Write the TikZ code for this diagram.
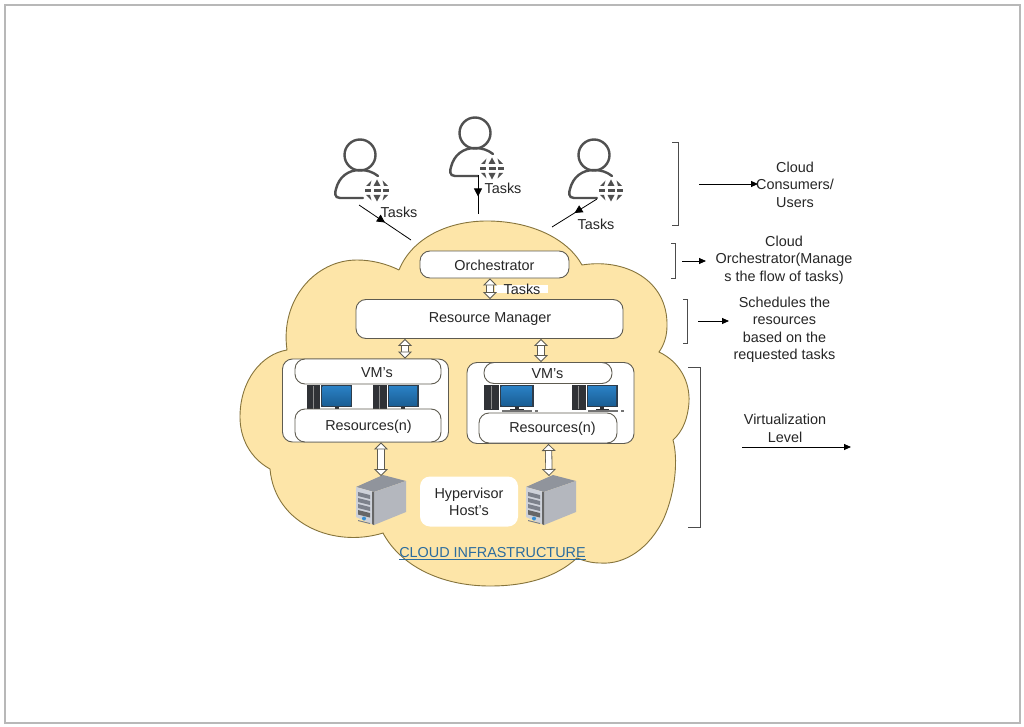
\documentclass[tikz,border=0pt]{standalone}
\usepackage{fontspec}
\setmainfont[Ligatures=ResetAll]{Liberation Sans}
\usetikzlibrary{arrows.meta,decorations.markings}
\definecolor{cloudfill}{HTML}{FDE5A8}
\definecolor{cloudline}{HTML}{86743C}
\definecolor{iconline}{HTML}{505050}
\definecolor{boxline}{HTML}{5E5B50}
\definecolor{linktext}{HTML}{2B6C9E}
\definecolor{screentop}{HTML}{2A80C4}
\definecolor{screenlow}{HTML}{1A5F96}
\definecolor{screenrim}{HTML}{2E3C4A}
\definecolor{towerdark}{HTML}{303236}
\definecolor{hosttop}{HTML}{90949C}
\definecolor{hostside}{HTML}{B4B7BE}
\definecolor{hostfront}{HTML}{CDD1D9}
\definecolor{hostbay}{HTML}{7C818B}
\definecolor{hostdot}{HTML}{3A8FD0}
\tikzset{
    label/.style={font=\fontsize{14.4}{17.5}\selectfont, text=black!85, align=center, inner sep=0pt},
    roundbox/.style={draw=boxline, fill=white, line width=0.9pt, rounded corners=10pt, inner sep=0pt, font=\fontsize{14.4}{17.5}\selectfont, text=black!85},
    bracket/.style={draw=black!70, line width=0.9pt},
    tasktip/.style={draw=black, line width=0.8pt, postaction={decorate},
        decoration={markings, mark=at position #1 with {\arrow{Triangle[length=8pt,width=8pt]}}}},
    sidearrow/.style={draw=black, line width=0.8pt, -{Triangle[length=7pt,width=6pt]}},
    dblarrow/.style={draw=boxline, line width=0.8pt, double=white, double distance=5.5pt,
        {Triangle[length=7pt,width=14pt,fill=white]}-{Triangle[length=7pt,width=14pt,fill=white]}},
    user/.pic={
        % Head and shoulders
        \draw[iconline, line width=2.4pt] (0,0) circle (15.5);
        \draw[iconline, line width=2.4pt, line cap=round] (3,43) -- (-20,43) .. controls (-26,43) and (-25,37) .. (-24,34) .. controls (-21,22) and (-12,15) .. (0,15) .. controls (7,15) and (13,17) .. (18,21);
        % Globe
        \fill[iconline] (17,24.5) -- (20.5,31) -- (13.5,31) -- cycle;
        \fill[iconline] (17,46.5) -- (20.5,40) -- (13.5,40) -- cycle;
        \fill[iconline] (11.5,25.5) -- (10,31) -- (6,31) -- cycle;
        \fill[iconline] (22.5,25.5) -- (24,31) -- (28,31) -- cycle;
        \fill[iconline] (11.5,45.5) -- (10,40) -- (6,40) -- cycle;
        \fill[iconline] (22.5,45.5) -- (24,40) -- (28,40) -- cycle;
        \fill[iconline] (5,34) rectangle (11,37);
        \fill[iconline] (13.5,34) rectangle (20.5,37);
        \fill[iconline] (23,34) rectangle (29,37);
    },
    hostserver/.pic={
        \coordinate (-top) at (0,-24);
        \fill[hosttop] (-25,-13) -- (2,-25) -- (25,-19) -- (-7,-8) -- cycle;
        \fill[hostside] (-7,-8) -- (25,-19) -- (25,12) -- (-7,25) -- cycle;
        \fill[hostfront] (-25,-13) -- (-7,-8) -- (-7,25) -- (-25,17) -- cycle;
        \fill[black!60] (-9,-8.5) -- (-7,-8) -- (-7,25) -- (-9,24) -- cycle;
        % Drive bays
        \foreach \y in {-8,-2,4} {
            \fill[hostbay] (-23,\y) -- (-11,{\y+3}) -- (-11,{\y+7}) -- (-23,{\y+4}) -- cycle;
        }
        \fill[black!60] (-23,10) -- (-11,13) -- (-11,17.5) -- (-23,14.5) -- cycle;
        \fill[hostdot] (-17,18.5) circle (2);
        \fill[hostbay] (-23,20) -- (-11,23) -- (-11,24) -- (-23,21) -- cycle;
    },
    pcset/.pic={
        % Tower
        \fill[towerdark] (-13.5,0) rectangle (0,25);
        \draw[black!45, line width=0.5pt] (-7,1) -- (-7,24);
        % Monitor
        \fill[screenrim] (1,0) rectangle (32,22);
        \shade[top color=screentop, bottom color=screenlow] (2.5,1.5) rectangle (30.5,20);
        \fill[towerdark] (14.5,22) rectangle (18.5,24);
        \fill[towerdark] (10,24) rectangle (23,25);
    },
    keyset/.pic={
        \fill[black!55] (0,0) rectangle (30,1.5);
        \fill[black!55] (33,0) rectangle (36,1.5);
    }
}

\begin{document}
\begin{tikzpicture}[x=1pt, y=-1pt]
    \useasboundingbox (0,0) rectangle (1024,727);
    % Page frame
    \draw[black!28, fill=white, line width=1.6pt] (5,5) rectangle (1020,723);

    % Cloud
    \draw[cloudline, fill=cloudfill, line width=0.9pt] (399,270)
        .. controls (412,238) and (448,221) .. (487,221)
        .. controls (530,221) and (567,238) .. (582,265)
        .. controls (625,258) and (668,280) .. (667,326)
        .. controls (667,336) and (664,345) .. (659,352)
        .. controls (680,362) and (690,382) .. (689,402)
        .. controls (688,418) and (683,431) .. (673,440)
        .. controls (678,458) and (676,490) .. (664,518)
        .. controls (650,548) and (625,565) .. (600,563)
        .. controls (592,563) and (584,561) .. (577,558)
        .. controls (555,578) and (525,586) .. (490,586)
        .. controls (440,586) and (400,565) .. (383,533)
        .. controls (335,548) and (275,525) .. (270,469)
        .. controls (250,458) and (240,438) .. (240,417)
        .. controls (240,380) and (262,354) .. (287,350)
        .. controls (280,300) and (315,260) .. (357,260)
        .. controls (372,260) and (387,264) .. (399,270);

    % Users
    \pic at (360,155) {user};
    \pic at (475,133) {user};
    \pic at (594,155) {user};
    \coordinate (usera) at (359,205);
    \coordinate (userb) at (478,175);
    \coordinate (userc) at (597,199);
    \coordinate (cloudtopa) at (411,240);
    \coordinate (cloudtopb) at (478,214);
    \coordinate (cloudtopc) at (552,227);
    \draw[tasktip=0.5] (usera) -- (cloudtopa);
    \draw[tasktip=0.55] (userb) -- (cloudtopb);
    \draw[tasktip=0.5] (userc) -- (cloudtopc);
    \node[label] (tasksa) at (399,212) {Tasks};
    \node[label] (tasksb) at (503,188) {Tasks};
    \node[label] (tasksc) at (596,224) {Tasks};

    % Orchestrator and manager
    \node[roundbox, minimum width=149pt, minimum height=27pt] (orch) at (494.5,264.5) {};
    \node[label] (orchtext) at (494.5,265.5) {Orchestrator};
    \node[roundbox, minimum width=267pt, minimum height=39pt] (rmgr) at (489.5,319) {};
    \node[label] (rmgrtext) at (490,319.5) {Resource Manager};
    \node[fill=white, minimum width=53pt, minimum height=8pt, inner sep=0pt] (tasksbg) at (521.5,289) {};
    \node[label] (tasksd) at (522,289) {Tasks};
    \draw[dblarrow] ([xshift=-4.5pt]orch.south) -- ([xshift=0.5pt]rmgr.north);

    % Left VM group
    \node[roundbox, minimum width=166pt, minimum height=83pt] (vmboxa) at (365.5,400.5) {};
    \pic at (320,385) {pcset};
    \pic at (386.5,385) {pcset};
    \node[roundbox, minimum width=146pt, minimum height=25pt] (vma) at (368,371.5) {};
    \node[roundbox, minimum width=146pt, minimum height=33pt] (resa) at (368,425.5) {};
    \node[label] (vmatext) at (377,372.5) {VM's};
    \node[label] (resatext) at (368.5,426.5) {Resources(n)};

    % Right VM group
    \node[roundbox, minimum width=167pt, minimum height=81pt] (vmboxb) at (550.5,403) {};
    \pic[xscale=1.08] at (499,385) {pcset};
    \pic at (585.5,385) {pcset};
    \pic at (502,410) {keyset};
    \pic at (588,410) {keyset};
    \node[roundbox, minimum width=128pt, minimum height=21pt] (vmb) at (548,373) {};
    \node[roundbox, minimum width=138pt, minimum height=30pt] (resb) at (548,428) {};
    \node[label] (vmbtext) at (547.5,374) {VM's};
    \node[label] (resbtext) at (552.5,428.5) {Resources(n)};

    \draw[dblarrow] ([xshift=-84.5pt]rmgr.south) -- ([xshift=39.5pt]vmboxa.north);
    \draw[dblarrow] ([xshift=51.5pt]rmgr.south) -- ([xshift=-9.5pt]vmboxb.north);

    % Hosts
    \pic (srva) at (381,500) {hostserver};
    \pic (srvb) at (551,500) {hostserver};
    \draw[dblarrow] ([xshift=15.5pt]vmboxa.south) -- (srva-top);
    \draw[dblarrow] ([xshift=-2pt]vmboxb.south) -- ([xshift=-2pt]srvb-top);
    \node[fill=white, rounded corners=10pt, minimum width=98pt, minimum height=50pt, inner sep=0pt] (hyperbox) at (469,501.5) {};
    \node[label] (hyper) at (469,502) {Hypervisor\\Host's};
    \node[label, text=linktext] (infra) at (492.5,553.5) {\underline{CLOUD INFRASTRUCTURE}};

    % Brackets
    \draw[bracket] (672,142) -- (678,142) -- (678,225) -- (672,225);
    \draw[bracket] (671,243.5) -- (675,243.5) -- (675,278) -- (671,278);
    \draw[bracket] (683,299.5) -- (687,299.5) -- (687,343) -- (683,343);
    \draw[bracket] (688,367) -- (700,367) -- (700,527) -- (688,527);

    % Right side notes
    \coordinate (brkta) at (699,184);
    \coordinate (notea) at (758,184);
    \coordinate (brktb) at (682,261);
    \coordinate (noteb) at (706,261);
    \coordinate (brktc) at (698,321);
    \coordinate (notec) at (729,321);
    \coordinate (brktd) at (742,447);
    \coordinate (noted) at (851,447);
    \draw[sidearrow] (brkta) -- (notea);
    \draw[sidearrow] (brktb) -- (noteb);
    \draw[sidearrow] (brktc) -- (notec);
    \draw[sidearrow] (brktd) -- (noted);
    \node[label] (consumers) at (795,184.5) {Cloud\\Consumers/\\Users};
    \node[label] (orchnote) at (784,260) {Cloud\\Orchestrator(Manage\\s the flow of tasks)};
    \node[label] (schednote) at (784.5,330) {Schedules the\\resources\\based on the\\requested tasks};
    \node[label] (virtnote) at (785,428.5) {Virtualization\\Level};
\end{tikzpicture}
\end{document}
